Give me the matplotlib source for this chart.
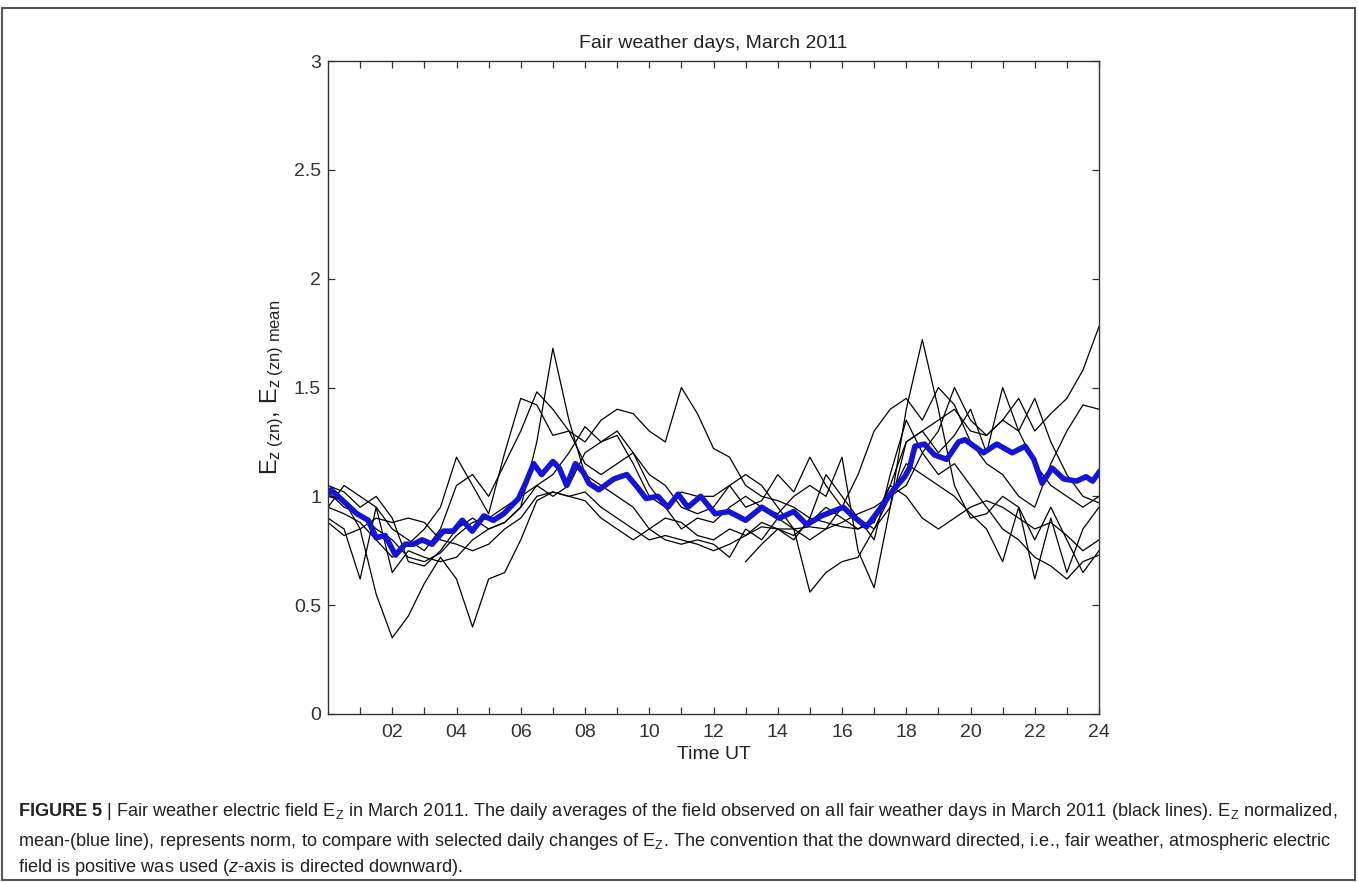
import numpy as np
import matplotlib
matplotlib.use("Agg")
import matplotlib.pyplot as plt
from matplotlib import font_manager
from matplotlib.patches import Rectangle

# ---------------- data ----------------
hours = np.arange(0, 24.5, 0.5)

day1 = [0.95, 0.92, 0.88, 0.80, 0.72, 0.78, 0.85, 0.95, 1.18, 1.05, 0.92, 1.20, 1.45, 1.42, 1.28, 1.30, 1.25,
        1.35, 1.40, 1.38, 1.30, 1.25, 1.50, 1.38, 1.22, 1.18, 1.05, 1.00, 0.98, 0.95, 0.90, 0.88, 0.86,
        0.85, 0.90, 1.05, 1.25, 1.30, 1.35, 1.40, 1.30, 1.28, 1.35, 1.45, 1.30, 1.38, 1.45, 1.58, 1.78]
day2 = [0.90, 0.85, 0.62, 0.95, 0.65, 0.75, 0.72, 0.70, 0.72, 0.80, 0.85, 0.88, 0.95, 1.25, 1.68, 1.35, 1.10,
        1.05, 1.00, 0.95, 0.85, 0.80, 0.78, 0.80, 0.78, 0.72, 0.85, 0.80, 0.90, 0.85, 0.80, 0.85, 0.95,
        1.10, 1.30, 1.40, 1.45, 1.35, 1.50, 1.42, 1.25, 1.15, 1.10, 1.00, 0.95, 1.15, 1.30, 1.42, 1.40]
day3 = [1.00, 0.98, 0.85, 0.55, 0.35, 0.45, 0.60, 0.72, 0.62, 0.40, 0.62, 0.65, 0.80, 0.98, 1.02, 1.00, 0.98,
        0.90, 0.85, 0.80, 0.85, 0.90, 0.88, 0.82, 0.80, 0.85, 0.82, 0.88, 0.85, 0.82, 0.88, 0.95, 0.90,
        0.85, 0.88, 1.05, 1.00, 0.90, 0.85, 0.90, 0.95, 0.98, 0.95, 0.90, 0.85, 0.88, 0.82, 0.75, 0.80]
day4 = [0.88, 0.82, 0.85, 0.90, 0.88, 0.90, 0.88, 0.80, 0.78, 0.75, 0.78, 0.85, 0.90, 1.00, 1.02, 1.00, 1.02,
        0.95, 0.90, 0.85, 0.80, 0.82, 0.80, 0.78, 0.75, 0.78, 0.82, 0.86, 0.85, 0.85, 0.86, 0.85, 0.88,
        0.92, 0.95, 1.00, 1.05, 1.20, 1.10, 1.15, 1.05, 0.95, 0.85, 0.80, 0.72, 0.68, 0.62, 0.70, 0.73]
day5 = [1.02, 0.95, 0.92, 0.85, 0.80, 0.72, 0.70, 0.74, 0.82, 0.88, 0.90, 0.95, 1.00, 1.05, 1.00, 1.05, 1.20,
        1.25, 1.30, 1.20, 1.05, 0.95, 0.85, 0.90, 0.88, 0.95, 1.00, 0.95, 0.92, 1.00, 1.05, 1.00, 1.18,
        0.75, 0.58, 0.95, 1.40, 1.72, 1.40, 1.05, 0.90, 0.92, 1.00, 0.95, 0.80, 0.95, 0.80, 0.65, 0.75]
day6 = [np.nan] * 26 + [0.70, 0.78, 0.85, 0.80, 0.90, 1.10, 1.00, 0.90, 0.85, 0.95, 1.25, 1.30, 1.20, 1.28,
        1.40, 1.20, 1.50, 1.30, 1.45, 1.25, 1.10, 1.00, 0.97]
day7 = [0.95, 1.05, 1.00, 0.95, 0.85, 0.80, 0.75, 0.85, 1.05, 1.10, 1.00, 1.15, 1.30, 1.48, 1.40, 1.30, 1.15,
        1.10, 1.15, 1.20, 1.10, 1.05, 0.95, 0.92, 0.95, 1.05, 1.10, 1.05, 0.95, 0.85, 0.56, 0.65, 0.70,
        0.72, 0.85, 1.00, 1.15, 1.10, 1.05, 1.00, 0.92, 0.85, 0.70, 0.95, 0.62, 0.90, 0.65, 0.85, 0.95]
day8 = [1.05, 1.02, 0.95, 1.00, 0.90, 0.70, 0.68, 0.75, 0.85, 0.90, 0.85, 0.88, 0.95, 1.05, 1.10, 1.20, 1.32,
        1.25, 1.28, 1.15, 1.00, 0.95, 1.02, 1.00, 1.00, 1.05, 0.95, 0.98, 1.10, 1.02, 1.18, 1.05, 0.95,
        0.90, 0.80, 1.10, 1.35, 1.20, 1.30, 1.50, 1.35, 1.28, 1.35, 1.30, 1.15, 1.05, 1.00, 0.95, 1.00]
days = [day1, day2, day3, day4, day5, day6, day7, day8]

mean_hours = [0.0, 0.1, 0.9, 1.25, 1.5, 1.78, 2.1, 2.4, 2.66, 2.93, 3.24, 3.59, 3.9, 4.18, 4.49, 4.85, 5.15,
              5.47, 5.93, 6.15, 6.4, 6.65, 7.0, 7.2, 7.43, 7.7, 7.95, 8.12, 8.43, 8.9, 9.3, 9.64, 9.9, 10.27,
              10.58, 10.9, 11.2, 11.6, 12.05, 12.48, 13.0, 13.5, 14.05, 14.5, 14.9, 15.36, 16.04, 16.33, 16.76,
              17.17, 17.6, 17.95, 18.1, 18.27, 18.57, 18.88, 19.26, 19.63, 19.83, 20.4, 20.82, 21.3, 21.7,
              21.97, 22.23, 22.54, 22.9, 23.3, 23.6, 23.8, 24.0]
mean_vals = [1.01, 1.03, 0.92, 0.89, 0.81, 0.82, 0.73, 0.78, 0.78, 0.80, 0.78, 0.84, 0.84, 0.89, 0.84, 0.91, 0.89,
             0.92, 0.99, 1.06, 1.15, 1.10, 1.16, 1.13, 1.05, 1.15, 1.11, 1.06, 1.03, 1.08, 1.10, 1.04, 0.99, 1.00,
             0.95, 1.01, 0.95, 1.00, 0.92, 0.93, 0.89, 0.95, 0.90, 0.93, 0.87, 0.91, 0.95, 0.91, 0.86,
             0.94, 1.03, 1.09, 1.13, 1.23, 1.24, 1.19, 1.17, 1.25, 1.26, 1.20, 1.24, 1.20, 1.23,
             1.17, 1.06, 1.13, 1.08, 1.07, 1.09, 1.07, 1.11]

xtick_vals = list(range(1, 25))
xtick_labels = ["%02d" % h if h % 2 == 0 else "" for h in xtick_vals]
ytick_vals = [0, 0.5, 1, 1.5, 2, 2.5, 3]
ytick_labels = ["0", "0.5", "1", "1.5", "2", "2.5", "3"]

title = "Fair weather days, March 2011"
xlabel = "Time UT"
ylabel = r"E$_{\mathregular{z\ (zn)}}$, E$_{\mathregular{z\ (zn)\ mean}}$"
caption_lines = [
    r"$\mathbf{FIGURE\ 5}$ | Fair weather electric field E$_{\mathregular{Z}}$ in March 2011. The daily averages of the field observed on all fair weather days in March 2011 (black lines). E$_{\mathregular{Z}}$ normalized,",
    r"mean-(blue line), represents norm, to compare with selected daily changes of E$_{\mathregular{Z}}$. The convention that the downward directed, i.e., fair weather, atmospheric electric",
    r"field is positive was used ($\mathit{z}$-axis is directed downward).",
]

# ---------------- fonts ----------------
def have(name):
    try:
        font_manager.findfont(name, fallback_to_default=False)
        return True
    except Exception:
        return False

main_font = "Liberation Sans" if have("Liberation Sans") else "DejaVu Sans"
cap_font = "Liberation Sans Narrow" if have("Liberation Sans Narrow") else main_font
plt.rcParams["font.family"] = [main_font, "DejaVu Sans"]
plt.rcParams["mathtext.fontset"] = "custom"
plt.rcParams["mathtext.rm"] = cap_font
plt.rcParams["mathtext.it"] = cap_font + ":italic"
plt.rcParams["mathtext.bf"] = cap_font + ":bold"

W, H = 1358, 882
fig = plt.figure(figsize=(W / 100, H / 100), dpi=100)
ax = fig.add_axes([328 / W, 1 - 714 / H, (1099 - 328) / W, (714 - 61) / H])

for d in days:
    ax.plot(hours, d, color="black", lw=0.9)
ax.plot(mean_hours, mean_vals, color="#1414d4", lw=4.0, solid_joinstyle="round")

ax.set_xlim(0, 24)
ax.set_ylim(0, 3)
ax.set_xticks(xtick_vals)
ax.set_xticklabels(xtick_labels)
ax.set_yticks(ytick_vals)
ax.set_yticklabels(ytick_labels)
ax.tick_params(direction="in", length=5, width=0.9, top=True, right=True, labelsize=14,
               colors="#333333")
ax.tick_params(axis="x", pad=7)
ax.tick_params(axis="y", pad=5)
for s in ax.spines.values():
    s.set_color("#333333")
    s.set_linewidth(1.0)

ax.set_title(title, fontsize=14, color="#222222", pad=9)
ax.set_xlabel(xlabel, fontsize=14, color="#222222", labelpad=4)
ax.set_ylabel(ylabel, fontsize=17, color="#222222", labelpad=6)

# caption
ys = [812, 841, 868]
for line, y in zip(caption_lines, ys):
    fig.text(18 / W, 1 - y / H, line, ha="left", va="center", fontsize=13.05,
             family=[cap_font, "DejaVu Sans"], color="#222222")

# outer frame
fig.patches.append(Rectangle((2 / W, 2 / H), (1355 - 2) / W, (880 - 8) / H, transform=fig.transFigure,
                             fill=False, edgecolor="#555555", lw=1.5))

fig.savefig("out.png", dpi=100)
